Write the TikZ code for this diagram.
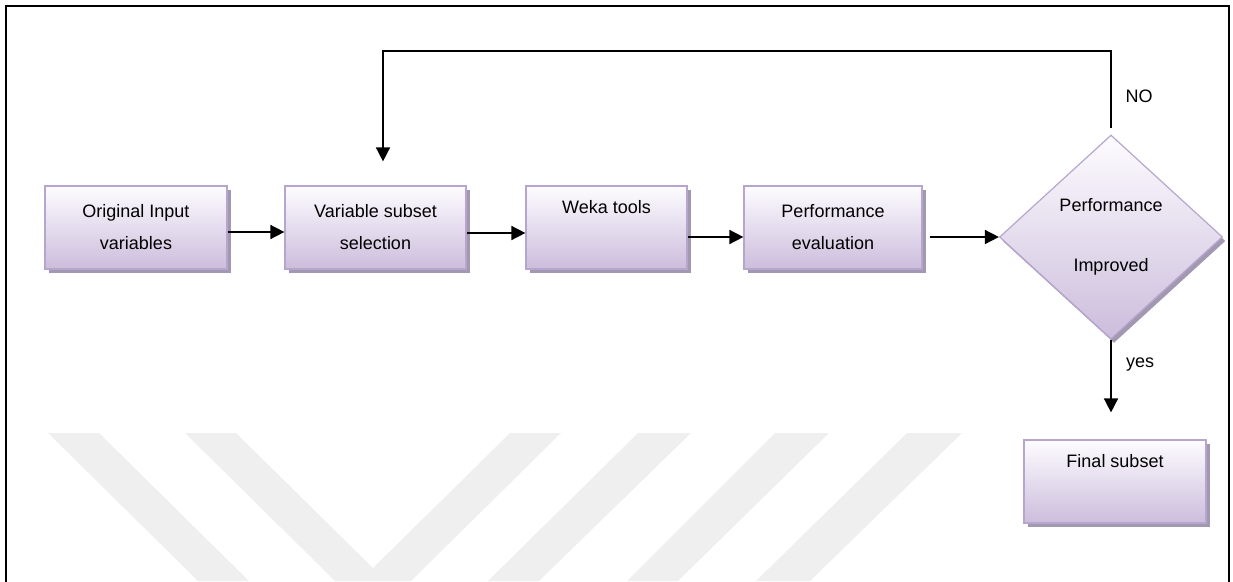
\documentclass[tikz,border=0pt]{standalone}
\usepackage{fontspec}
\setmainfont{Liberation Sans}
\usetikzlibrary{shapes.geometric,shadows,arrows.meta}
\definecolor{boxline}{RGB}{182,166,206}
\definecolor{boxtop}{RGB}{253,252,255}
\definecolor{boxbot}{RGB}{204,189,220}
\definecolor{boxshadow}{RGB}{163,152,178}
\definecolor{markgray}{RGB}{239,239,239}

\begin{document}
\begin{tikzpicture}[x=1pt,y=-1pt,
  txt/.style={font=\fontsize{18}{32}\selectfont},
  flowbox/.style={txt, draw=boxline, line width=1.2pt,
    top color=boxtop, bottom color=boxbot,
    minimum height=83pt, align=center, inner sep=0pt,
    drop shadow={shadow xshift=4pt, shadow yshift=-4pt, fill=boxshadow, opacity=1}},
  decision/.style={txt, diamond, draw=boxline, line width=1.2pt,
    top color=boxtop, bottom color=boxbot,
    minimum width=223pt, minimum height=204pt, inner sep=0pt, align=center,
    drop shadow={shadow xshift=3pt, shadow yshift=-4pt, fill=boxshadow, opacity=1}},
  flow/.style={line width=1.6pt, -{Triangle[width=14pt,length=14pt]}},
  lab/.style={txt}
]
\useasboundingbox (0,0) rectangle (1233,581);

% faint background mark
\begin{scope}
\clip (0,0) rectangle (1233,581);
\fill[markgray] (48,433) -- (99,433) -- (249,581) -- (198,581) -- cycle;
\fill[markgray] (185,433) -- (236,433) -- (373,568) -- (510,433) -- (561,433)
  -- (411,581) -- (335,581) -- cycle;
\fill[markgray] (638,433) -- (691,433) -- (539,581) -- (488,581) -- cycle;
\fill[markgray] (775,433) -- (829,433) -- (678,581) -- (627,581) -- cycle;
\fill[markgray] (907,433) -- (962,433) -- (810,581) -- (756,581) -- cycle;
\end{scope}

% outer frame
\draw[line width=2pt] (6,590) -- (6,6) -- (1229,6) -- (1229,590);

% process steps
\node[flowbox, minimum width=182pt] (v1) at (136,227.5) {Original Input\\variables};
\node[flowbox, minimum width=181pt] (v2) at (375.5,227.5) {Variable subset\\selection};
\node[flowbox, minimum width=161pt] (v3) at (606.5,227.5) {Weka tools\\\strut};
\node[flowbox, minimum width=178pt] (v4) at (833,227.5) {Performance\\evaluation};
\node[decision] (d) at (1111,237) {Performance\\[28pt]Improved};
\node[flowbox, minimum width=182pt] (fin) at (1115,481.5) {Final subset\\\strut};

% branch labels
\node[lab] (no) at (1139,96) {NO};
\node[lab] (yes) at (1140,365) {yes};

% connectors
\coordinate (loopTop) at (383,51);
\draw[flow] ([yshift=-4.5pt]v1.east) -- ([yshift=-4.5pt]v2.west);
\draw[flow] ([yshift=-5.5pt]v2.east) -- ([yshift=-5.5pt]v3.west);
\draw[flow] ([yshift=-9.5pt]v3.east) -- ([yshift=-9.5pt]v4.west);
\draw[flow, shorten <=7pt] ([yshift=-9.5pt]v4.east) -- (d.west);
\draw[flow, shorten >=27pt] (d.south) -- (d.south |- fin.north);
\draw[flow, shorten <=6pt, shorten >=24pt] (d.north) |- (loopTop) -- (loopTop |- v2.north);
\end{tikzpicture}
\end{document}
